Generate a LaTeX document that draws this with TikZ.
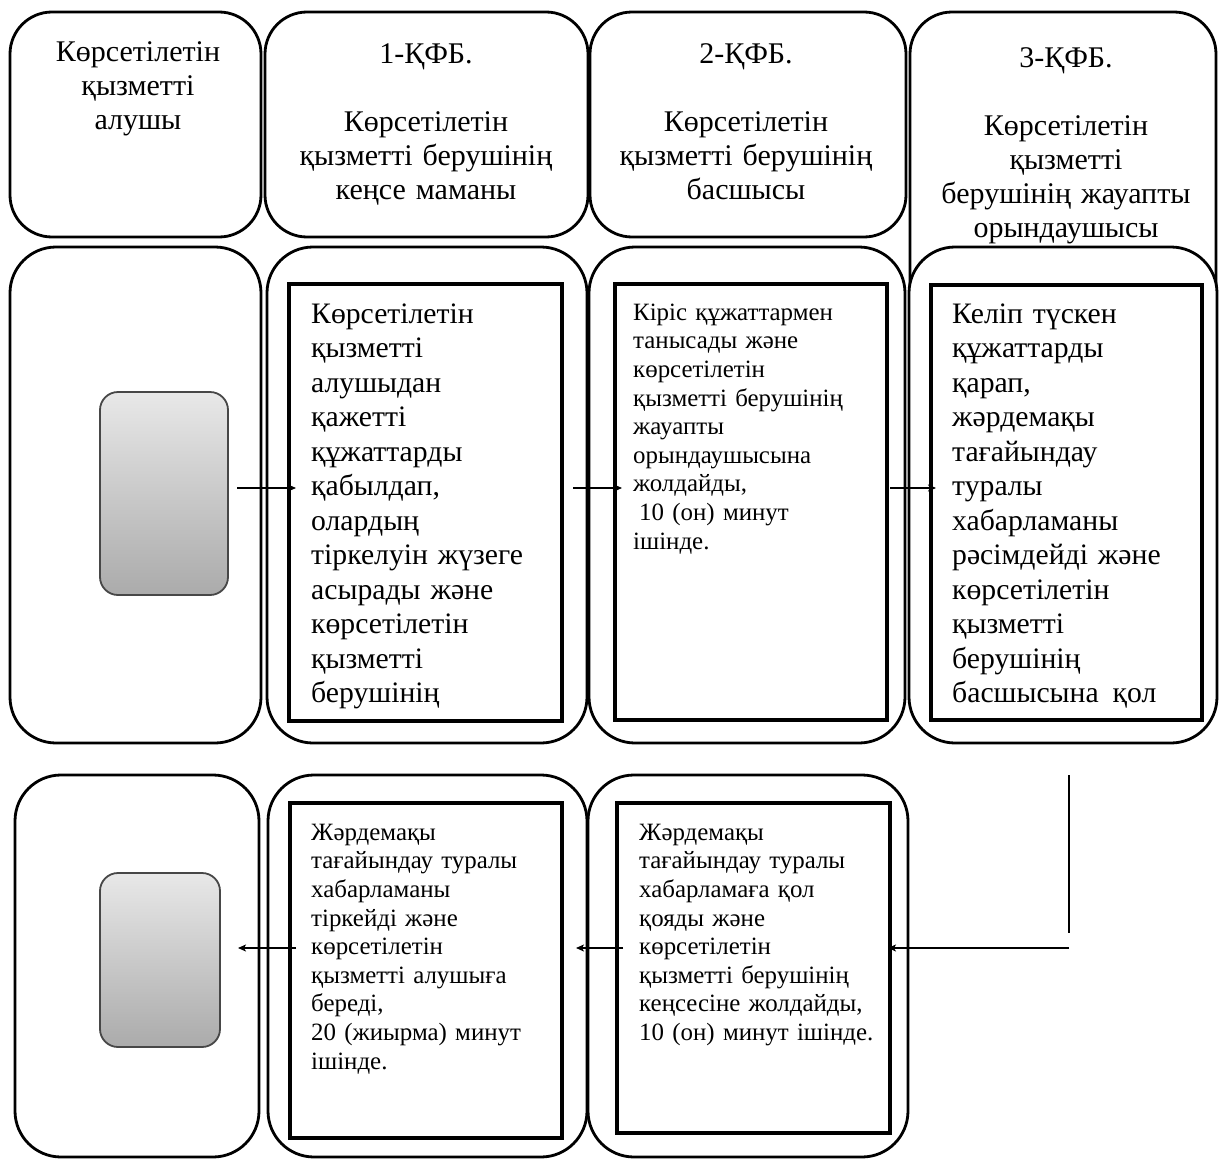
\documentclass[tikz,border=0pt]{standalone}
\usepackage{fontspec}
\setmainfont{Liberation Serif}
\usetikzlibrary{arrows.meta}
\newcommand\topstrutA{\rule{0pt}{21pt}}
\newcommand\topstrutB{\rule{0pt}{18pt}}
\begin{document}
\begin{tikzpicture}[x=1pt,y=-1pt,
  hdr/.style={draw, line width=2.8pt, rounded corners=42pt, fill=white, inner sep=0pt, outer sep=0pt},
  lane/.style={draw, line width=2.8pt, rounded corners=46pt, fill=white, inner sep=0pt, outer sep=0pt},
  inbox/.style={draw, line width=3.6pt, fill=white, inner sep=0pt, outer sep=0pt},
  greybox/.style={draw=black!72, line width=1.8pt, rounded corners=18pt, top color=black!9, bottom color=black!33, inner sep=0pt, outer sep=0pt},
  htext/.style={anchor=north, inner sep=0pt, text width=316pt, align=center, font=\fontsize{30}{34}\selectfont},
  btext/.style={anchor=north west, inner sep=0pt, text width=300pt, align=left, font=\fontsize{29.7}{34.5}\selectfont},
  stext/.style={anchor=north west, inner sep=0pt, text width=300pt, align=left, font=\fontsize{24.9}{28.6}\selectfont},
  arr/.style={-{Stealth[length=8pt,width=7pt,inset=2pt]}, line width=1.4pt},
  plain/.style={line width=2.2pt}
]
\useasboundingbox (0,0) rectangle (1219,1159);
\fill[white] (0,0) rectangle (1219,1159);
\begin{scope}
\clip (0,0) rectangle (1219,1159);
% header row
\node[hdr, minimum width=251pt, minimum height=225pt] (hA) at (135.5,124.5) {};
\node[hdr, minimum width=323pt, minimum height=225pt] (hB) at (426.5,124.5) {};
\node[hdr, minimum width=316pt, minimum height=225pt] (hC) at (748,124.5) {};
\node[hdr, minimum width=306pt, minimum height=328pt] (hD) at (1063,176) {};
\node[htext] (tA) at (138,40) {\topstrutA Көрсетілетін\\қызметті\\алушы};
\node[htext] (tB) at (426,42) {\topstrutA 1-ҚФБ.\\[34pt]Көрсетілетін\\қызметті берушінің\\кеңсе маманы};
\node[htext] (tC) at (746,42) {\topstrutA 2-ҚФБ.\\[34pt]Көрсетілетін\\қызметті берушінің\\басшысы};
\node[htext] (tD) at (1066,46) {\topstrutA 3-ҚФБ.\\[34pt]Көрсетілетін\\қызметті\\берушінің жауапты\\орындаушысы};
% row 2
\node[lane, minimum width=251pt, minimum height=496pt] (A2) at (135.5,495) {};
\node[lane, minimum width=320pt, minimum height=496pt] (B2) at (427,495) {};
\node[lane, minimum width=316pt, minimum height=496pt] (C2) at (747,495) {};
\node[lane, minimum width=308pt, minimum height=496pt] (D2) at (1063,495) {};
\node[greybox, minimum width=128pt, minimum height=203pt] (grey2) at (164,493.5) {};
\node[inbox, minimum width=273pt, minimum height=437pt] (b2in) at (425.5,502.5) {};
\node[inbox, minimum width=272pt, minimum height=436pt] (c2in) at (751,502) {};
\node[inbox, minimum width=271pt, minimum height=435pt] (d2in) at (1066.5,502.5) {};
\node[btext] (tb2) at (311,302) {\topstrutA Көрсетілетін\\қызметті\\алушыдан\\қажетті\\құжаттарды\\қабылдап,\\олардың\\тіркелуін жүзеге\\асырады және\\көрсетілетін\\қызметті\\берушінің};
\node[stext] (tc2) at (633,302) {\topstrutB Кіріс құжаттармен\\танысады және\\көрсетілетін\\қызметті берушінің\\жауапты\\орындаушысына\\жолдайды,\\\hspace*{6pt}10 (он) минут\\ішінде.};
\node[btext] (td2) at (952,302) {\topstrutA Келіп түскен\\құжаттарды\\қарап,\\жәрдемақы\\тағайындау\\туралы\\хабарламаны\\рәсімдейді және\\көрсетілетін\\қызметті\\берушінің\\басшысына\hspace{14pt}қол};
% row 3
\node[lane, minimum width=244pt, minimum height=382pt] (A3) at (137,966) {};
\node[lane, minimum width=319pt, minimum height=382pt] (B3) at (427.5,966) {};
\node[lane, minimum width=320pt, minimum height=382pt] (C3) at (748,966) {};
\node[greybox, minimum width=120pt, minimum height=174pt] (grey3) at (160,960) {};
\node[inbox, minimum width=272pt, minimum height=335pt] (b3in) at (426,970.5) {};
\node[inbox, minimum width=273pt, minimum height=330pt] (c3in) at (753.5,968) {};
\node[stext] (tb3) at (311,822) {\topstrutB Жәрдемақы\\тағайындау туралы\\хабарламаны\\тіркейді және\\көрсетілетін\\қызметті алушыға\\береді,\\20 (жиырма) минут\\ішінде.};
\node[stext] (tc3) at (639,822) {\topstrutB Жәрдемақы\\тағайындау туралы\\хабарламаға қол\\қояды және\\көрсетілетін\\қызметті берушінің\\кеңсесіне жолдайды,\\10 (он) минут ішінде.};
% connectors
\coordinate (r2) at (0,488);
\coordinate (r3) at (0,948);
\coordinate (vtop) at (1069,775);
\coordinate (vbot) at (1069,933);
\coordinate (hstart) at (1069,948);
\draw[arr, shorten <=9pt, shorten >=-7pt] (grey2.east |- r2) -- (b2in.west |- r2);
\draw[arr, shorten <=11pt, shorten >=-7pt] (b2in.east |- r2) -- (c2in.west |- r2);
\draw[arr, shorten <=3pt, shorten >=-5pt] (c2in.east |- r2) -- (d2in.west |- r2);
\draw[plain] (vtop) -- (vbot);
\draw[arr, shorten >=-2pt] (hstart) -- (c3in.east |- r3);
\draw[arr, shorten <=-6pt, shorten >=14pt] (c3in.west |- r3) -- (b3in.east |- r3);
\draw[arr, shorten <=-6pt, shorten >=18pt] (b3in.west |- r3) -- (grey3.east |- r3);
\end{scope}
\end{tikzpicture}
\end{document}
